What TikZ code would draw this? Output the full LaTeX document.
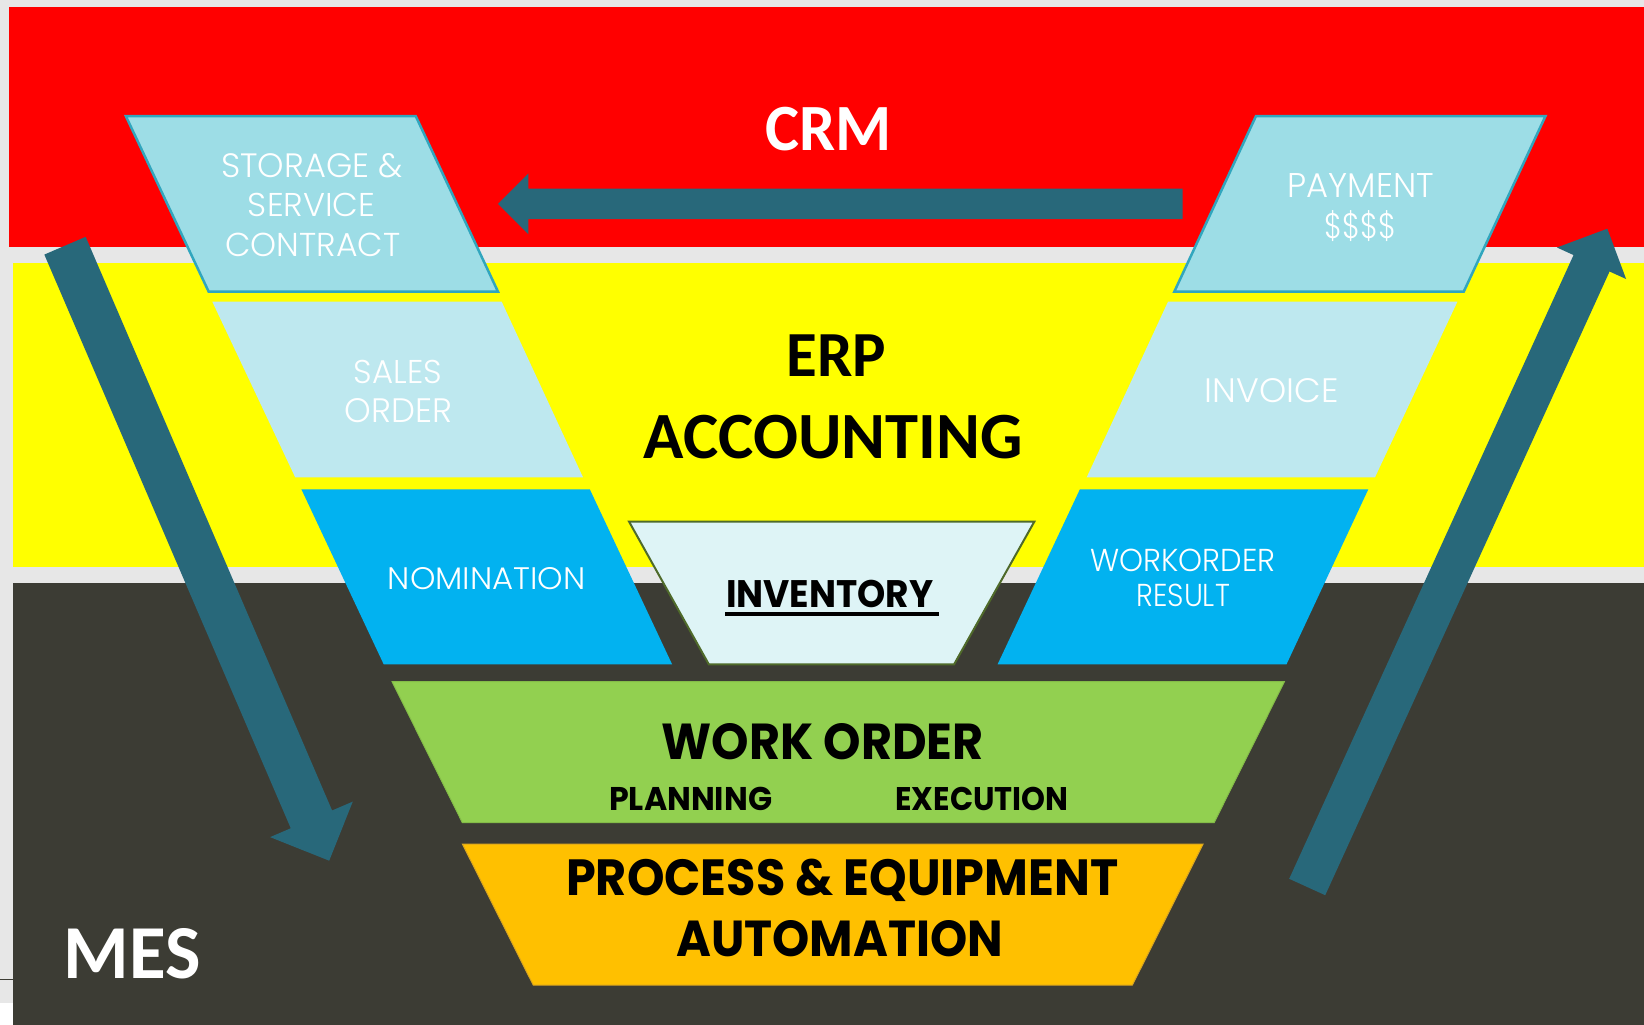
\documentclass[tikz,border=0pt]{standalone}
\usepackage{fontspec}
\usepackage{graphicx}
\usetikzlibrary{calc}
\newfontfamily\calb{Carlito}
\newfontfamily\futb{Poppins}
\IfFontExistsTF{Poppins Light}{\newfontfamily\thinf{Poppins Light}}{\newfontfamily\thinf{Poppins}}
\definecolor{bggrey}{HTML}{E7E7E7}
\definecolor{crmred}{HTML}{FF0000}
\definecolor{erpyel}{HTML}{FFFF00}
\definecolor{mesdark}{HTML}{3C3C34}
\definecolor{arrteal}{HTML}{28687A}
\definecolor{stofill}{HTML}{9DDDE6}
\definecolor{stoline}{HTML}{31A6BE}
\definecolor{salfill}{HTML}{BEE8EF}
\definecolor{cyanfill}{HTML}{02B2F0}
\definecolor{invfill}{HTML}{DEF4F6}
\definecolor{invline}{HTML}{4F6A2A}
\definecolor{wofill}{HTML}{92D050}
\definecolor{woline}{HTML}{84BC48}
\definecolor{pefill}{HTML}{FFC000}
\definecolor{peline}{HTML}{D9A520}
\newcommand\fitt[3]{\resizebox{#1pt}{#2pt}{#3}}
\newcommand\blockarrow[5]{%
  \coordinate (ba-h) at ($(#2)!#5!(#1)$);
  \fill[arrteal] ($(#1)!#3!90:(#2)$) -- ($(ba-h)!#3!90:(#2)$) -- ($(ba-h)!#4!90:(#2)$) -- (#2)
    -- ($(ba-h)!#4!-90:(#2)$) -- ($(ba-h)!#3!-90:(#2)$) -- ($(#1)!#3!-90:(#2)$) -- cycle;}
\tikzset{
  txt/.style={anchor=base, inner sep=0pt, outer sep=0pt},
  thintxt/.style={txt, text=white, font=\thinf},
  boldtxt/.style={txt, text=black, font=\futb\bfseries},
  bigtxt/.style={txt, font=\calb\bfseries},
  stobox/.style={fill=stofill, draw=stoline, line width=2.5pt, line join=miter},
  salbox/.style={fill=salfill},
  cyanbox/.style={fill=cyanfill},
  invbox/.style={fill=invfill, draw=invline, line width=2pt},
  wobox/.style={fill=wofill, draw=woline, line width=1pt},
  pebox/.style={fill=pefill, draw=peline, line width=1pt},
}
\begin{document}
\begin{tikzpicture}[x=1pt,y=-1pt]
\useasboundingbox (0,0) rectangle (1644,1025);
% background bands
\fill[bggrey] (0,0) rectangle (1644,1025);
\fill[white] (0,1003) rectangle (13,1025);
\draw[mesdark, line width=1pt] (0,979.3) -- (13,979.3);
\fill[crmred] (9,7) rectangle (1644,247);
\fill[erpyel] (13,263) rectangle (1644,567);
\fill[mesdark] (13,583) rectangle (1644,1025);
% left column
\path[stobox] (125.8,116) -- (415.7,116) -- (498,291.7) -- (208.7,291.7) -- cycle;
\path[salbox] (212.3,301.7) -- (501.7,301.7) -- (583,477.3) -- (295.2,477.3) -- cycle;
\path[cyanbox] (301.4,489.3) -- (589.8,489.3) -- (672.1,664.3) -- (383.7,664.3) -- cycle;
% inventory
\path[invbox] (629.1,521.7) -- (1034.3,521.7) -- (954.1,664.3) -- (708.8,664.3) -- cycle;
% right column
\path[stobox] (1256,116) -- (1545.5,116) -- (1463.7,291.7) -- (1174.3,291.7) -- cycle;
\path[salbox] (1168,301.7) -- (1457.4,301.7) -- (1375,477.3) -- (1086.7,477.3) -- cycle;
\path[cyanbox] (1079.9,489.3) -- (1368.3,489.3) -- (1286.5,664.3) -- (997.6,664.3) -- cycle;
% bottom trapezoids
\path[wobox] (392.1,681.7) -- (1284.4,681.7) -- (1214.1,822.7) -- (462.4,822.7) -- cycle;
\path[pebox] (462.4,844) -- (1203.1,844) -- (1132.4,985) -- (533.2,985) -- cycle;
% arrows
\coordinate (crm-tail) at (1182.7,203.9);
\coordinate (crm-tip) at (498,203.9);
\blockarrow{crm-tail}{crm-tip}{15.2pt}{30.5pt}{30.4pt}
\coordinate (dn-tail) at (65,245.7);
\coordinate (dn-tip) at (329.2,860.7);
\blockarrow{dn-tail}{dn-tip}{22.5pt}{45pt}{45pt}
\coordinate (up-tail) at (1307.2,887);
\coordinate (up-tip) at (1607.3,228.7);
\blockarrow{up-tail}{up-tip}{19.8pt}{38pt}{38pt}
% band titles
\node[bigtxt, text=white] (crm) at (828.6,150) {\fitt{126.3}{43.3}{CRM}};
\node[bigtxt, text=black] (erp) at (836.2,376.7) {\fitt{99.6}{41.7}{ERP}};
\node[bigtxt, text=black] (acc) at (833.3,458.3) {\fitt{379}{43.3}{ACCOUNTING}};
\node[bigtxt, text=white] (mes) at (132.4,978.3) {\fitt{136.8}{50}{MES}};
% thin labels
\node[thintxt] (sto1) at (311.9,177.3) {\fitt{181.4}{24}{STORAGE \&}};
\node[thintxt] (sto2) at (311.7,216) {\fitt{127.4}{23.3}{SERVICE}};
\node[thintxt] (sto3) at (313,256.7) {\fitt{175.1}{23.4}{CONTRACT}};
\node[thintxt] (sal1) at (398,383.3) {\fitt{88.1}{23.3}{SALES}};
\node[thintxt] (sal2) at (398.2,422.3) {\fitt{107.5}{24}{ORDER}};
\node[thintxt] (nom) at (486.8,589.3) {\fitt{197.7}{22}{NOMINATION}};
\node[thintxt] (pay1) at (1360.7,197.3) {\fitt{146.3}{24}{PAYMENT}};
\node[thintxt, anchor=center] (pay2) at (1360.1,226.2) {\resizebox*{71.8pt}{31pt}{\$\$\$\$}};
\node[thintxt] (inv) at (1271.6,402.3) {\fitt{133.7}{24}{INVOICE}};
\node[thintxt] (wor1) at (1183,571.7) {\fitt{185.1}{22.4}{WORKORDER}};
\node[thintxt] (wor2) at (1183.2,606.7) {\fitt{93.4}{22.4}{RESULT}};
% bold labels
\node[boldtxt] (inventory) at (829.7,607.3) {\fitt{207.3}{27.3}{INVENTORY}};
\draw[black, line width=4pt] (725,613.7) -- (939,613.7);
\node[boldtxt] (wo) at (822.6,759.3) {\fitt{321.9}{36}{WORK ORDER}};
\node[boldtxt] (plan) at (690.7,810) {\fitt{163}{23.3}{PLANNING}};
\node[boldtxt] (exec) at (981.9,810) {\fitt{173}{23.3}{EXECUTION}};
\node[boldtxt] (pe1) at (842.2,895.7) {\fitt{552}{36.4}{PROCESS \& EQUIPMENT}};
\node[boldtxt] (pe2) at (839.6,956.7) {\fitt{326.6}{36}{AUTOMATION}};
\end{tikzpicture}
\end{document}
